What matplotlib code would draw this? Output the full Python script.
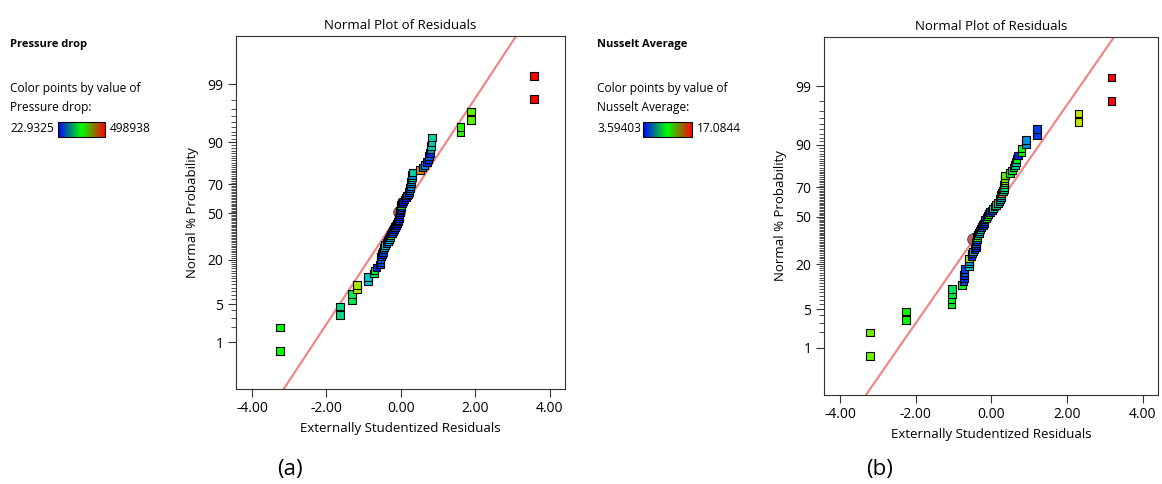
import matplotlib
matplotlib.use("Agg")
import matplotlib.pyplot as plt
import numpy as np
from matplotlib.colors import LinearSegmentedColormap, Normalize
from matplotlib.colorbar import ColorbarBase
from statistics import NormalDist

plt.rcParams['font.family'] = ['Open Sans', 'DejaVu Sans']

# residuals, sorted (rank 1 = smallest)
resid_a = [-3.25, -3.25, -1.63, -1.63, -1.31, -1.31, -1.18, -1.18, -0.88, -0.88,
           -0.73, -0.71, -0.65, -0.56, -0.55, -0.55, -0.53, -0.50, -0.48, -0.47,
           -0.45, -0.42, -0.39, -0.35, -0.32, -0.30, -0.28, -0.24, -0.21, -0.18,
           -0.15, -0.13, -0.10, -0.07, -0.06, -0.05, -0.04, -0.04, -0.03, -0.02,
           -0.01, 0.00, 0.01, 0.03, 0.06, 0.10, 0.13, 0.17, 0.20, 0.22,
           0.23, 0.25, 0.26, 0.27, 0.28, 0.29, 0.30, 0.30, 0.31, 0.51,
           0.58, 0.64, 0.71, 0.74, 0.76, 0.78, 0.80, 0.81, 0.82, 0.83,
           1.60, 1.60, 1.88, 1.88, 3.58, 3.58]
# colour position of each point on the blue-green-red scale
col_a = [0.5, 0.5, 0.33, 0.33, 0.4, 0.4, 0.68, 0.68, 0.25, 0.25,
         0.45, 0.45, 0.05, 0.1, 0.1, 0.12, 0.1, 0.05, 0.08, 0.1,
         0.22, 0.25, 0.12, 0.2, 0.25, 0.2, 0.45, 0.05, 0.08, 0.02,
         0.1, 0.03, 0.05, 0.02, 0.08, 0.04, 0.03, 0.05, 0.02, 0.06,
         0.1, 0.05, 0.45, 0.04, 0.02, 0.05, 0.03, 0.06, 0.1, 0.08,
         0.15, 0.12, 0.18, 0.15, 0.2, 0.22, 0.3, 0.18, 0.3, 0.85,
         0.15, 0.18, 0.05, 0.08, 0.12, 0.05, 0.2, 0.3, 0.28, 0.3,
         0.55, 0.55, 0.6, 0.6, 1.0, 1.0]

resid_b = [-3.21, -3.21, -2.26, -2.26, -1.06, -1.06, -1.05, -1.04, -0.77, -0.74,
           -0.72, -0.72, -0.71, -0.71, -0.60, -0.60, -0.60, -0.60, -0.53, -0.52,
           -0.49, -0.45, -0.41, -0.41, -0.40, -0.39, -0.38, -0.38, -0.37, -0.33,
           -0.31, -0.29, -0.26, -0.22, -0.19, -0.18, -0.18, -0.13, -0.10, -0.08,
           -0.04, 0.01, 0.04, 0.08, 0.13, 0.18, 0.21, 0.23, 0.25, 0.26,
           0.27, 0.30, 0.33, 0.34, 0.34, 0.35, 0.35, 0.35, 0.36, 0.49,
           0.55, 0.59, 0.63, 0.65, 0.67, 0.70, 0.80, 0.80, 0.91, 0.91,
           1.20, 1.20, 2.31, 2.31, 3.18, 3.18]
col_b = [0.62, 0.62, 0.5, 0.5, 0.45, 0.45, 0.42, 0.38, 0.48, 0.1,
         0.05, 0.05, 0.12, 0.08, 0.27, 0.27, 0.2, 0.68, 0.05, 0.08,
         0.35, 0.05, 0.05, 0.05, 0.1, 0.05, 0.15, 0.55, 0.5, 0.2,
         0.25, 0.3, 0.1, 0.05, 0.05, 0.1, 0.05, 0.45, 0.5, 0.5,
         0.08, 0.05, 0.35, 0.35, 0.3, 0.35, 0.2, 0.35, 0.2, 0.25,
         0.85, 0.3, 0.35, 0.38, 0.35, 0.62, 0.65, 0.62, 0.6, 0.45,
         0.45, 0.48, 0.28, 0.3, 0.48, 0.05, 0.5, 0.5, 0.18, 0.18,
         0.08, 0.08, 0.72, 0.72, 1.0, 1.0]

# highlighted run (circle marker): residual, rank
circle_a = (-0.045, 39)
circle_b = (-0.49, 27)

# reference line (slope, intercept in z units)
line_a = (1.02, 0.04)
line_b = (0.97, 0.05)

prob_labels = [1, 5, 20, 50, 70, 90, 99]
prob_minor = list(range(1, 100))
xticks = [-4, -2, 0, 2, 4]

cmap = LinearSegmentedColormap.from_list(
    'dx', [(0.0, '#0000ff'), (0.25, '#00c8d0'), (0.5, '#00ff00'),
           (0.75, '#e0e000'), (1.0, '#ff0000')])
cbar_cmap = LinearSegmentedColormap.from_list(
    'dxbar', ['#0000ff', '#00ff00', '#ff0000'])

nd = NormalDist()


def normal_plot(ax, resid, cols, circ, line):
    n = len(resid)
    z = [nd.inv_cdf((i + 0.5) / n) for i in range(n)]
    xs = np.linspace(-4.5, 4.5, 10)
    ax.plot(xs, line[0] * xs + line[1], color='#f58080', lw=1.5, zorder=1)
    cz = nd.inv_cdf((circ[1] - 0.5) / n)
    ax.scatter([circ[0]], [cz], s=70, marker='o', color='#b86060',
               edgecolors='#6a3030', linewidths=0.6, zorder=2)
    ax.scatter(resid, z, c=cols, cmap=cmap, norm=Normalize(0, 1), marker='s',
               s=30, edgecolors='black', linewidths=0.8, zorder=3)
    ax.set_xlim(-4.43, 4.41)
    ax.set_ylim(-3.17, 3.2)
    ax.set_xticks(xticks)
    ax.set_xticklabels(['%.2f' % t for t in xticks], fontsize=10)
    ax.set_yticks([nd.inv_cdf(p / 100) for p in prob_labels])
    ax.set_yticklabels([str(p) for p in prob_labels], fontsize=10)
    ax.set_yticks([nd.inv_cdf(p / 100) for p in prob_minor], minor=True)
    ax.tick_params(axis='both', which='major', length=6, width=0.8,
                   color='#333333', pad=3)
    ax.tick_params(axis='y', which='minor', length=3.5, width=0.6,
                   color='#333333')
    for s in ax.spines.values():
        s.set_color('#333333')
        s.set_linewidth(0.8)
    ax.set_title('Normal Plot of Residuals', fontsize=9.5, pad=5)
    ax.set_xlabel('Externally Studentized Residuals', fontsize=9.5, labelpad=4)
    ax.set_ylabel('Normal % Probability', fontsize=9.5, labelpad=6)


fig = plt.figure(figsize=(11.62, 4.84), dpi=100)
W, H = 1162, 484

ax_a = fig.add_axes([236 / W, 1 - 389 / H, 329 / W, 353 / H])
normal_plot(ax_a, resid_a, col_a, circle_a, line_a)
ax_b = fig.add_axes([824 / W, 1 - 395 / H, 334 / W, 358 / H])
normal_plot(ax_b, resid_b, col_b, circle_b, line_b)


def legend_block(x0, name, lo, hi, bar_x, bar_w):
    fig.text(x0 / W, 1 - 45 / H, name, fontsize=8, fontweight='bold',
             va='center', ha='left')
    fig.text(x0 / W, 1 - 88 / H, 'Color points by value of', fontsize=8.6,
             va='center', ha='left')
    fig.text(x0 / W, 1 - 108 / H, name + ':', fontsize=8.6, va='center', ha='left')
    fig.text(x0 / W, 1 - 129 / H, lo, fontsize=8.6, va='center', ha='left')
    fig.text((bar_x + bar_w + 5) / W, 1 - 129 / H, hi, fontsize=8.6,
             va='center', ha='left')
    cax = fig.add_axes([bar_x / W, 1 - 137 / H, bar_w / W, 15 / H])
    cb = ColorbarBase(cax, cmap=cbar_cmap, orientation='horizontal')
    cb.set_ticks([])
    cb.outline.set_linewidth(0.8)


legend_block(10, 'Pressure drop', '22.9325', '498938', 58, 47)
legend_block(597, 'Nusselt Average', '3.59403', '17.0844', 643, 49)

fig.text(290 / W, 1 - 469 / H, '(a)', fontsize=16, ha='center', va='center')
fig.text(880 / W, 1 - 469 / H, '(b)', fontsize=16, ha='center', va='center')

fig.savefig('out.png', dpi=100)
